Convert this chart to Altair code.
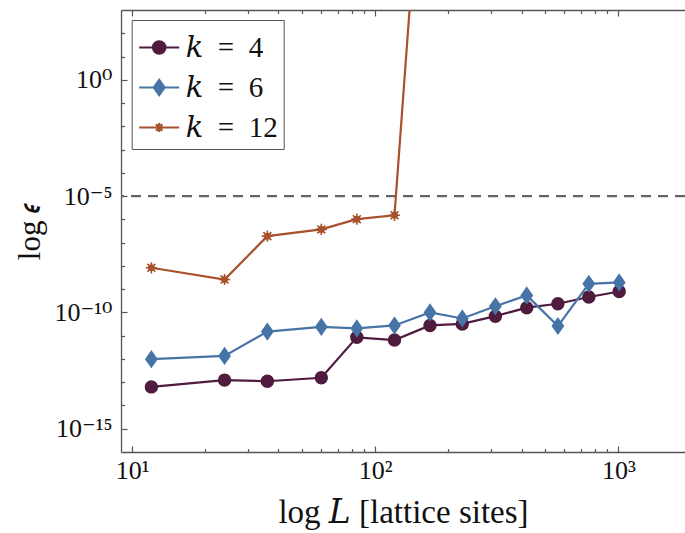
import altair as alt
import pandas as pd

# ---------------- data ----------------
series_names = ["\U0001D458\u2002=\u20024", "\U0001D458\u2002=\u20026", "\U0001D458\u2002=\u200212"]
colors = ["#4f1b3f", "#4674a6", "#a8512d"]

L_k4 = [12, 24, 36, 60, 84, 120, 168, 228, 312, 420, 564, 756, 1008]
eps_k4 = [6.3e-14, 1.23e-13, 1.1e-13, 1.55e-13, 8.5e-12, 6.5e-12, 2.75e-11,
          3.2e-11, 6.9e-11, 1.6e-10, 2.35e-10, 4.6e-10, 7.9e-10]

L_k6 = [12, 24, 36, 60, 84, 120, 168, 228, 312, 420, 564, 756, 1008]
eps_k6 = [9.8e-13, 1.35e-12, 1.5e-11, 2.4e-11, 2.05e-11, 2.75e-11, 1.0e-10,
          5.5e-11, 1.85e-10, 5.4e-10, 2.6e-11, 1.7e-9, 1.95e-9]

L_k12 = [12, 24, 36, 60, 84, 120, 168]
eps_k12 = [8.3e-9, 2.6e-9, 1.9e-7, 3.7e-7, 1.02e-6, 1.5e-6, 1e15]

threshold = [1e-5]

x_domain = [9, 1880]
y_domain = [1e-16, 1e3]

x_major = [10, 100, 1000]
x_major_labels = ["10\u00b9", "10\u00b2", "10\u00b3"]
x_minor = [20, 30, 40, 50, 60, 70, 80, 90, 200, 300, 400, 500, 600, 700, 800, 900]

y_major = [1e-15, 1e-10, 1e-5, 1]
y_major_labels = ["10\u207b\u00b9\u2075", "10\u207b\u00b9\u2070", "10\u207b\u2075", "10\u2070"]
y_minor = [1e-14, 1e-13, 1e-12, 1e-11, 1e-9, 1e-8, 1e-7, 1e-6,
           1e-4, 1e-3, 1e-2, 1e-1, 1e1, 1e2]

x_title = "log \U0001D43F [lattice sites]"
y_title = "log \U0001D716"

# ---------------- styling ----------------
FONT = "Liberation Serif, DejaVu Serif, serif"
AX = "#555555"
TXT = "#111111"

rows = []
for name, Ls, es in [(series_names[0], L_k4, eps_k4),
                     (series_names[1], L_k6, eps_k6),
                     (series_names[2], L_k12, eps_k12)]:
    for L, e in zip(Ls, es):
        rows.append({"series": name, "L": L, "eps": e})
df = pd.DataFrame(rows)


def label_expr(values, labels):
    expr = "''"
    for v, lab in zip(values, labels):
        expr = f"abs(datum.value/{v!r} - 1) < 1e-6 ? '{lab}' : " + expr
    return expr


xs = alt.Scale(type="log", domain=x_domain, nice=False)
ys = alt.Scale(type="log", domain=y_domain, nice=False)


def cscale():
    return alt.Scale(domain=series_names, range=colors)


# plot marker paths (unit = sqrt(size)/2)
marker_paths = [
    "circle",
    "M0,-1.3L0.92,0L0,1.3L-0.92,0Z",
    "M-0.95,0L0.95,0M0,-0.95L0,0.95M-0.67,-0.67L0.67,0.67M-0.67,0.67L0.67,-0.67"
    "M0.45,0A0.45,0.45,0,1,1,-0.45,0A0.45,0.45,0,1,1,0.45,0Z",
]
# legend symbol paths (line + marker)
legend_paths = [
    "M-1,0L1,0M0.31,0A0.31,0.31,0,1,1,-0.31,0A0.31,0.31,0,1,1,0.31,0Z",
    "M-1,0L1,0M0,-0.38L0.27,0L0,0.38L-0.27,0Z",
    "M-1,0L1,0M-0.22,0L0.22,0M0,-0.22L0,0.22M-0.16,-0.16L0.16,0.16M-0.16,0.16L0.16,-0.16"
    "M0.1,0A0.1,0.1,0,1,1,-0.1,0A0.1,0.1,0,1,1,0.1,0Z",
]


def make_legend():
    return alt.Legend(
        orient="none", legendX=10.7, legendY=10, title=None, direction="vertical",
        symbolSize=1600, symbolStrokeWidth=2.2, symbolOpacity=1,
        labelFont=FONT, labelFontSize=29, labelColor=TXT, labelOffset=5,
        rowPadding=3, padding=6, strokeColor=AX, fillColor="white", cornerRadius=0,
    )


common_tick = dict(labels=False, domain=False, grid=False, title=None,
                   tickColor=AX, tickWidth=1.2)

x_frame_bottom = alt.Axis(
    orient="bottom", values=x_major, labelExpr=label_expr(x_major, x_major_labels),
    ticks=False, domain=True, domainColor=AX, domainWidth=1.3, grid=False,
    labelFont=FONT, labelFontSize=26, labelColor=TXT, labelPadding=5,
    labelBaseline="top", labelFlush=False, labelOverlap=False,
    title=x_title, titleFont=FONT, titleFontSize=33, titleFontWeight="normal",
    titleColor=TXT, titleY=70, titleBaseline="alphabetic")
x_major_bottom = alt.Axis(orient="bottom", values=x_major, tickSize=6, offset=-6, **common_tick)
x_minor_bottom = alt.Axis(orient="bottom", values=x_minor, tickSize=3.5, offset=-3.5, **common_tick)
x_frame_top = alt.Axis(orient="top", values=x_major, ticks=False, labels=False, domain=True,
                       domainColor=AX, domainWidth=1.3, grid=False, title=None)
x_major_top = alt.Axis(orient="top", values=x_major, tickSize=6, offset=-6, **common_tick)
x_minor_top = alt.Axis(orient="top", values=x_minor, tickSize=3.5, offset=-3.5, **common_tick)

y_frame_left = alt.Axis(
    orient="left", values=y_major, labelExpr=label_expr(y_major, y_major_labels),
    ticks=False, domain=True, domainColor=AX, domainWidth=1.3, grid=False,
    labelFont=FONT, labelFontSize=26, labelColor=TXT, labelPadding=9,
    labelFlush=False, labelOverlap=False,
    title=y_title, titleFont=FONT, titleFontSize=31, titleFontWeight="normal",
    titleColor=TXT, titleX=-91, titleBaseline="middle")
y_major_left = alt.Axis(orient="left", values=y_major, tickSize=6, offset=-6, **common_tick)
y_minor_left = alt.Axis(orient="left", values=y_minor, tickSize=3.5, offset=-3.5, **common_tick)

rule = alt.Chart(pd.DataFrame({"eps": threshold})).mark_rule(
    color="#666666", strokeWidth=2.2, strokeDash=[10, 7]
).encode(y=alt.Y("eps:Q", scale=ys, axis=y_frame_left))

lines = alt.Chart(df).mark_line(strokeWidth=2.2, clip=True).encode(
    x=alt.X("L:Q", scale=xs, axis=x_frame_bottom),
    y=alt.Y("eps:Q", scale=ys, axis=y_major_left),
    color=alt.Color("series:N", scale=cscale(), sort=series_names, legend=None),
)

points = alt.Chart(df).mark_point(filled=True, opacity=1, size=140, strokeWidth=1.6, clip=True).encode(
    x=alt.X("L:Q", scale=xs, axis=x_major_bottom),
    y=alt.Y("eps:Q", scale=ys, axis=y_minor_left),
    color=alt.Color("series:N", scale=cscale(), sort=series_names, legend=None),
    stroke=alt.Stroke("series:N", scale=cscale(), legend=None),
    shape=alt.Shape("series:N", scale=alt.Scale(domain=series_names, range=marker_paths), legend=None),
)

# invisible layer that only carries the legend (line + marker symbols)
legend_layer = alt.Chart(df).mark_point(filled=True, size=0, strokeWidth=2.2, clip=True).encode(
    x=alt.X("L:Q", scale=xs, axis=None),
    y=alt.Y("eps:Q", scale=ys, axis=None),
    color=alt.Color("series:N", scale=cscale(), sort=series_names, legend=make_legend()),
    stroke=alt.Stroke("series:N", scale=cscale(), sort=series_names, legend=make_legend()),
    shape=alt.Shape("series:N", scale=alt.Scale(domain=series_names, range=legend_paths),
                    sort=series_names, legend=make_legend()),
)


def axis_carrier(ax):
    return alt.Chart(df).mark_point(opacity=0).encode(x=alt.X("L:Q", scale=xs, axis=ax))


chart = alt.layer(
    rule, lines, points, legend_layer,
    axis_carrier(x_minor_bottom), axis_carrier(x_frame_top),
    axis_carrier(x_major_top), axis_carrier(x_minor_top),
).resolve_axis(x="independent", y="independent").resolve_scale(
    color="independent", stroke="independent", shape="independent"
).properties(
    width=564, height=442,
    autosize=alt.AutoSizeParams(type="none"),
    padding={"left": 121, "top": 10, "right": 0, "bottom": 81},
    background="white",
).configure_view(stroke=None)

chart.save("out.html", embed_options={"renderer": "svg", "actions": False})
